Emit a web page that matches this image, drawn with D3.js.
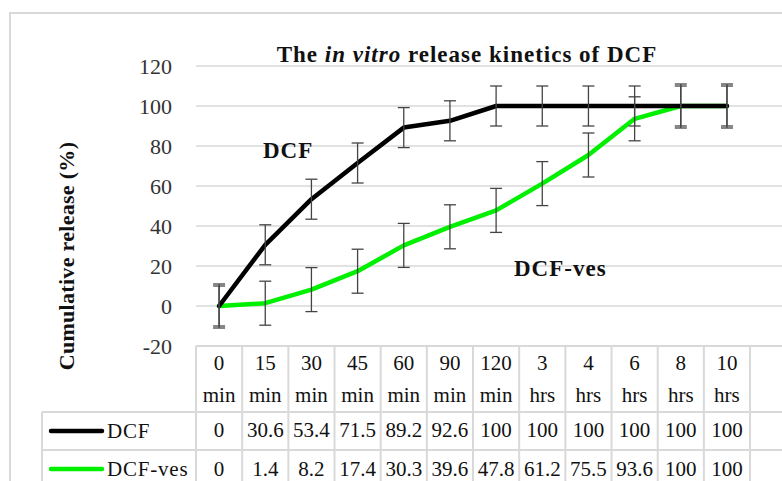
<!DOCTYPE html>
<html>
<head>
<meta charset="utf-8">
<title>Release kinetics</title>
<script src="https://cdn.jsdelivr.net/npm/d3@7"></script>
<style>
  body { margin: 0; background: #fff; }
  svg text { font-family: "Palatino Linotype", "Book Antiqua", Palatino, "Liberation Serif", serif; }
</style>
</head>
<body>
<div id="chart"></div>
<script>
// data
var timeNum  = ["0", "15", "30", "45", "60", "90", "120", "3", "4", "6", "8", "10"];
var timeUnit = ["min", "min", "min", "min", "min", "min", "min", "hrs", "hrs", "hrs", "hrs", "hrs"];
var dcf    = [0, 30.6, 53.4, 71.5, 89.2, 92.6, 100, 100, 100, 100, 100, 100];
var dcfVes = [0, 1.4, 8.2, 17.4, 30.3, 39.6, 47.8, 61.2, 75.5, 93.6, 100, 100];
var errDcf = [10, 10, 10, 10, 10, 10, 10, 10, 10, 10, 10, 10];
var errVes = [11, 11, 11, 11, 11, 11, 11, 11, 11, 11, 11, 11];
var yTicks = [-20, 0, 20, 40, 60, 80, 100, 120];

var W = 782, H = 481;
var grid = "#d9d9d9";

var svg = d3.select("#chart").append("svg")
    .attr("width", W).attr("height", H);

// outer chart frame (cut off on right / bottom)
svg.append("rect")
    .attr("x", 10).attr("y", 13)
    .attr("width", 800).attr("height", 500)
    .attr("fill", "none").attr("stroke", grid).attr("stroke-width", 2);

var cats = timeNum.map(function(d, i) { return d + " " + timeUnit[i]; });
var colW = 46.17;
var x = d3.scaleBand().domain(cats).range([196, 196 + colW * cats.length]);
var y = d3.scaleLinear().domain([-20, 120]).range([346, 66]);
var cx = function(i) { return x(cats[i]) + x.bandwidth() / 2; };

// gridlines
svg.append("g").selectAll("line")
  .data(yTicks).enter().append("line")
    .attr("x1", 196).attr("x2", W)
    .attr("y1", function(d) { return y(d); })
    .attr("y2", function(d) { return y(d); })
    .attr("stroke", grid).attr("stroke-width", 1.5);

// y axis labels (plain hyphen for the negative tick, like the original)
var yAxis = d3.axisLeft(y).tickValues(yTicks).tickSize(0).tickPadding(0)
    .tickFormat(function(d) { return String(d); });
var ya = svg.append("g").attr("transform", "translate(172,0)").call(yAxis);
ya.select(".domain").remove();
ya.selectAll("text")
    .attr("font-size", 22).attr("fill", "#333")
    .style("font-family", "'Palatino Linotype', 'Book Antiqua', Palatino, 'Liberation Serif', serif");

// axis title
svg.append("text")
    .attr("transform", "translate(74,256) rotate(-90)")
    .attr("text-anchor", "middle")
    .attr("font-size", 22).attr("font-weight", "bold").attr("fill", "#111")
    .attr("letter-spacing", 0.3)
    .text("Cumulative  release (%)");

// chart title
var title = svg.append("text")
    .attr("x", 467).attr("y", 62)
    .attr("text-anchor", "middle")
    .attr("font-size", 23).attr("font-weight", "bold").attr("fill", "#111")
    .attr("letter-spacing", 1);
title.append("tspan").text("The ");
title.append("tspan").attr("font-style", "italic").text("in vitro");
title.append("tspan").text(" release kinetics of DCF");

// lines
var line = d3.line()
    .x(function(d, i) { return cx(i); })
    .y(function(d) { return y(d); });

svg.append("path").datum(dcfVes)
    .attr("d", line).attr("fill", "none")
    .attr("stroke", "#00f000").attr("stroke-width", 4.5)
    .attr("stroke-linecap", "round").attr("stroke-linejoin", "round");
svg.append("path").datum(dcf)
    .attr("d", line).attr("fill", "none")
    .attr("stroke", "#000").attr("stroke-width", 4.5)
    .attr("stroke-linecap", "round").attr("stroke-linejoin", "round");

// error bars
function errorBars(vals, errs) {
  var g = svg.append("g").attr("stroke", "#444").attr("stroke-width", 1.3);
  vals.forEach(function(v, i) {
    var xc = cx(i), top = y(v + errs[i]), bot = y(v - errs[i]);
    g.append("line").attr("x1", xc).attr("x2", xc).attr("y1", top).attr("y2", bot);
    g.append("line").attr("x1", xc - 6).attr("x2", xc + 6).attr("y1", top).attr("y2", top);
    g.append("line").attr("x1", xc - 6).attr("x2", xc + 6).attr("y1", bot).attr("y2", bot);
  });
}
errorBars(dcf, errDcf);
errorBars(dcfVes, errVes);

// series labels
svg.append("text").attr("x", 263).attr("y", 158)
    .attr("font-size", 23).attr("font-weight", "bold").attr("fill", "#111")
    .attr("letter-spacing", 1).text("DCF");
svg.append("text").attr("x", 514).attr("y", 276)
    .attr("font-size", 23).attr("font-weight", "bold").attr("fill", "#111")
    .attr("letter-spacing", 1).text("DCF-ves");

// data table
var rowTop = [346, 412, 450, 488];
var tg = svg.append("g").attr("stroke", grid).attr("stroke-width", 2);
var colEdges = d3.range(cats.length + 2).map(function(i) { return 196 + colW * i; });
tg.append("line").attr("x1", 196).attr("x2", W).attr("y1", rowTop[0]).attr("y2", rowTop[0]);
tg.append("line").attr("x1", 42).attr("x2", W).attr("y1", rowTop[1]).attr("y2", rowTop[1]);
tg.append("line").attr("x1", 42).attr("x2", W).attr("y1", rowTop[2]).attr("y2", rowTop[2]);
tg.append("line").attr("x1", 42).attr("x2", 42).attr("y1", rowTop[1]).attr("y2", H);
colEdges.forEach(function(e) {
  tg.append("line").attr("x1", e).attr("x2", e).attr("y1", rowTop[0]).attr("y2", H);
});

var txt = svg.append("g").attr("font-size", 21).attr("fill", "#111").attr("text-anchor", "middle");
cats.forEach(function(c, i) {
  txt.append("text").attr("x", cx(i)).attr("y", 370).text(timeNum[i]);
  txt.append("text").attr("x", cx(i)).attr("y", 402).text(timeUnit[i]);
  txt.append("text").attr("x", cx(i)).attr("y", 437).text(dcf[i]);
  txt.append("text").attr("x", cx(i)).attr("y", 476).text(dcfVes[i]);
});

// legend keys in the table
var legend = [
  { name: "DCF", color: "#000", yc: 431 },
  { name: "DCF-ves", color: "#00f000", yc: 469 }
];
legend.forEach(function(l) {
  svg.append("line").attr("x1", 51).attr("x2", 102).attr("y1", l.yc).attr("y2", l.yc)
      .attr("stroke", l.color).attr("stroke-width", 4.5).attr("stroke-linecap", "round");
  svg.append("text").attr("x", 107).attr("y", l.yc + 7)
      .attr("font-size", 21).attr("letter-spacing", 0.8).attr("fill", "#111").text(l.name);
});
</script>
</body>
</html>
